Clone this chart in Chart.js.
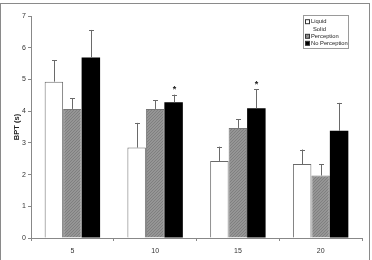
<!DOCTYPE html>
<html><head><meta charset="utf-8">
<script src="https://cdn.jsdelivr.net/npm/chart.js@4"></script>
<style>html,body{margin:0;padding:0;background:#fff}#w{width:372px;height:260px}</style>
</head><body><div id="w"><canvas id="c" width="372" height="260"></canvas></div>
<script>
const categories = ["5", "10", "15", "20"];
const seriesNames = ["Liquid", "Perception", "No Perception"];
const legendLabels = ["Liquid", "Solid", "Perception", "No Perception"];
const liquid = [4.93, 2.85, 2.43, 2.33];
const liquidErr = [5.61, 3.63, 2.88, 2.79];
const perception = [4.07, 4.07, 3.47, 1.97];
const perceptionErr = [4.40, 4.34, 3.74, 2.32];
const noPerception = [5.69, 4.28, 4.09, 3.38];
const noPerceptionErr = [6.56, 4.52, 4.69, 4.26];
const significance = ["", "*", "*", ""];
const yTicks = [0, 1, 2, 3, 4, 5, 6, 7];

const pc = document.createElement('canvas'); pc.width = 3; pc.height = 3;
const px = pc.getContext('2d');
px.fillStyle = '#959595'; px.fillRect(0,0,3,3);
px.fillStyle = '#7f7f7f'; px.fillRect(0,0,1,1); px.fillRect(2,1,1,1); px.fillRect(1,2,1,1);
const grayPattern = px.createPattern(pc, 'repeat');

const errs = [liquidErr, perceptionErr, noPerceptionErr];

const plugin = {
  id: 'extras',
  beforeDraw(chart) {
    const ctx = chart.ctx;
    ctx.save();
    ctx.strokeStyle = '#8a8a8a'; ctx.lineWidth = 1;
    ctx.strokeRect(0.5, 3.5, 369, 262);
    ctx.restore();
  },
  afterDatasetsDraw(chart) {
    const ctx = chart.ctx;
    const y = chart.scales.y;
    ctx.save();
    ctx.strokeStyle = '#6a6a6a'; ctx.lineWidth = 1;
    chart.data.datasets.forEach((ds, di) => {
      const meta = chart.getDatasetMeta(di);
      meta.data.forEach((bar, i) => {
        const x = Math.round(bar.x) + 0.5;
        const yTop = y.getPixelForValue(errs[di][i]);
        ctx.beginPath();
        ctx.moveTo(x, bar.y); ctx.lineTo(x, yTop);
        ctx.moveTo(x - 2.5, Math.round(yTop) + 0.5); ctx.lineTo(x + 2.5, Math.round(yTop) + 0.5);
        ctx.stroke();
        if (di === 2 && significance[i]) {
          ctx.fillStyle = '#222';
          ctx.font = 'bold 9px "Liberation Sans"';
          ctx.textAlign = 'center'; ctx.textBaseline = 'middle';
          ctx.fillText(significance[i], x, yTop - 5);
        }
      });
    });
    // legend
    const lx = 303, ly = 15, lw = 45, lh = 33;
    ctx.fillStyle = '#fff';
    ctx.fillRect(lx, ly, lw, lh);
    ctx.strokeStyle = '#9a9a9a';
    ctx.strokeRect(lx + 0.5, ly + 0.5, lw, lh);
    ctx.font = '5.8px "Liberation Sans"';
    ctx.textBaseline = 'middle'; ctx.textAlign = 'left';
    const rows = [21.7, 29.3, 36.3, 43.3];
    const fills = ['#fff', null, grayPattern, '#000'];
    legendLabels.forEach((t, k) => {
      const ry = rows[k];
      if (fills[k]) {
        ctx.fillStyle = fills[k];
        ctx.fillRect(lx + 2.5, ry - 2, 4, 4);
        ctx.strokeStyle = '#333';
        ctx.strokeRect(lx + 2.5, ry - 2, 4, 4);
        ctx.fillStyle = '#222';
        ctx.fillText(t, lx + 8, ry);
      } else {
        ctx.fillStyle = '#222';
        ctx.fillText(t, lx + 10, ry);
      }
    });
    ctx.restore();
  }
};

new Chart(document.getElementById('c'), {
  type: 'bar',
  data: {
    labels: categories,
    datasets: [
      { label: seriesNames[0], data: liquid, backgroundColor: '#fff', borderColor: '#6a6a6a', borderWidth: 1 },
      { label: seriesNames[1], data: perception, backgroundColor: grayPattern, borderColor: '#777', borderWidth: 1 },
      { label: seriesNames[2], data: noPerception, backgroundColor: '#000', borderColor: '#000', borderWidth: 0 }
    ]
  },
  options: {
    responsive: false,
    animation: false,
    devicePixelRatio: 1,
    layout: { padding: { top: 16, right: 10, left: 0, bottom: 0 } },
    datasets: { bar: { categoryPercentage: 0.67, barPercentage: 1 } },
    plugins: { legend: { display: false }, tooltip: { enabled: false } },
    scales: {
      x: {
        grid: { offset: true, drawOnChartArea: false, drawTicks: true, tickLength: 3, color: '#888' },
        border: { color: '#888' },
        ticks: { color: '#333', font: { family: 'Liberation Sans', size: 7 }, padding: 6 },
        afterFit(s) { s.height = 22; }
      },
      y: {
        min: 0, max: 7,
        afterBuildTicks(s) { s.ticks = yTicks.map(v => ({ value: v })); },
        grid: { drawOnChartArea: false, drawTicks: true, tickLength: 3, color: '#888' },
        border: { color: '#888' },
        ticks: { color: '#333', font: { family: 'Liberation Sans', size: 7 }, padding: 2 },
        title: { display: true, text: 'BPT (s)', color: '#222', font: { family: 'Liberation Sans', size: 7.5, weight: 'bold' }, padding: { top: 12, bottom: 0 } },
        afterFit(s) { s.width = 31; }
      }
    }
  },
  plugins: [plugin]
});
</script></body></html>
